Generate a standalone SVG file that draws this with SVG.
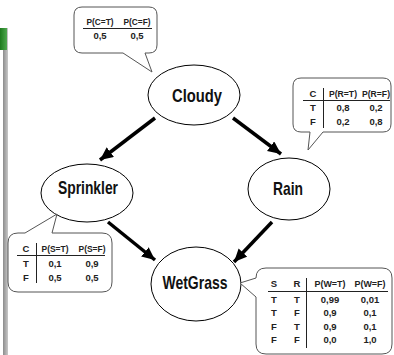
<svg xmlns="http://www.w3.org/2000/svg" width="394" height="355" viewBox="0 0 394 355">
<style>
.node{fill:#fff;stroke:#000;stroke-width:1}
.lbl{font-family:"Liberation Sans",Arial,sans-serif;font-weight:bold;font-size:19px;text-anchor:middle;fill:#111}
.call{fill:#fff;stroke:#555;stroke-width:1}
.t{font-family:"Liberation Sans",Arial,sans-serif;font-weight:bold;font-size:9.5px;text-anchor:middle;fill:#222}
.rule{stroke:#222;stroke-width:1}
.arr{stroke:#000;stroke-width:3.5;fill:none;marker-end:url(#ah)}
</style>
<defs>
<marker id="ah" markerUnits="userSpaceOnUse" markerWidth="15" markerHeight="13" refX="13" refY="6" orient="auto">
<path d="M0,0 L13,6 L0,12 z" fill="#000"/>
</marker>
<linearGradient id="gbar" x1="0" x2="1" y1="0" y2="0">
<stop offset="0" stop-color="#8c8c8c"/><stop offset="1" stop-color="#c8c8c8"/>
</linearGradient>
<linearGradient id="gg" x1="0" x2="1" y1="0" y2="0">
<stop offset="0" stop-color="#1d7a1d"/><stop offset="1" stop-color="#4fa84f"/>
</linearGradient>
</defs>
<rect x="0" y="0" width="394" height="355" fill="#fff"/>
<rect x="3" y="28" width="5" height="327" fill="url(#gbar)"/>
<rect x="0" y="28" width="7" height="22" fill="url(#gg)"/>

<g id="connectors">
<line class="arr" x1="155" y1="118" x2="100" y2="160"/>
<line class="arr" x1="233" y1="118" x2="281" y2="154"/>
<line class="arr" x1="108" y1="222" x2="155" y2="260"/>
<line class="arr" x1="272" y1="222" x2="234" y2="262"/>
</g>

<g id="cloudy">
<ellipse class="node" cx="194" cy="95" rx="46" ry="30"/>
<text class="lbl" x="197" y="102" textLength="50" lengthAdjust="spacingAndGlyphs">Cloudy</text>
</g>
<g id="sprinkler">
<ellipse class="node" cx="87" cy="193" rx="46" ry="29"/>
<text class="lbl" x="88" y="194" textLength="60" lengthAdjust="spacingAndGlyphs">Sprinkler</text>
</g>
<g id="rain">
<ellipse class="node" cx="289" cy="189" rx="41" ry="31"/>
<text class="lbl" x="288" y="195" textLength="30" lengthAdjust="spacingAndGlyphs">Rain</text>
</g>
<g id="wetgrass">
<ellipse class="node" cx="196" cy="284" rx="45" ry="37"/>
<text class="lbl" x="195" y="289" textLength="65" lengthAdjust="spacingAndGlyphs">WetGrass</text>
</g>

<g id="cpt-cloudy">
<path class="call" d="M82,7 H149 Q157,7 157,15 V45 Q157,53 149,53 H145 L152,72 L123,53 H82 Q74,53 74,45 V15 Q74,7 82,7 Z"/>
<text class="t" x="100" y="25" textLength="27" lengthAdjust="spacingAndGlyphs">P(C=T)</text>
<text class="t" x="137" y="25" textLength="27" lengthAdjust="spacingAndGlyphs">P(C=F)</text>
<line class="rule" x1="83" y1="28.5" x2="152" y2="28.5"/>
<text class="t" x="100" y="39">0,5</text>
<text class="t" x="137" y="39">0,5</text>
</g>

<g id="cpt-rain">
<path class="call" d="M301,78 H383 Q391,78 391,86 V124 Q391,132 383,132 H323 L308,150 L310,132 H301 Q293,132 293,124 V86 Q293,78 301,78 Z"/>
<text class="t" x="313" y="97">C</text>
<text class="t" x="343" y="97" textLength="28" lengthAdjust="spacingAndGlyphs">P(R=T)</text>
<text class="t" x="376" y="97" textLength="28" lengthAdjust="spacingAndGlyphs">P(R=F)</text>
<line class="rule" x1="303" y1="100.5" x2="390" y2="100.5"/>
<line class="rule" x1="323.5" y1="88" x2="323.5" y2="128"/>
<text class="t" x="313" y="111">T</text>
<text class="t" x="343" y="111">0,8</text>
<text class="t" x="376" y="111">0,2</text>
<text class="t" x="313" y="125">F</text>
<text class="t" x="343" y="125">0,2</text>
<text class="t" x="376" y="125">0,8</text>
</g>

<g id="cpt-sprinkler">
<path class="call" d="M18,233 H25 L57,214 L52,233 H102 Q112,233 112,243 V282 Q112,292 102,292 H18 Q8,292 8,282 V243 Q8,233 18,233 Z"/>
<text class="t" x="26" y="252">C</text>
<text class="t" x="55" y="252" textLength="27" lengthAdjust="spacingAndGlyphs">P(S=T)</text>
<text class="t" x="92" y="252" textLength="27" lengthAdjust="spacingAndGlyphs">P(S=F)</text>
<line class="rule" x1="17" y1="255.5" x2="105" y2="255.5"/>
<line class="rule" x1="36.5" y1="243" x2="36.5" y2="283"/>
<text class="t" x="26" y="267">T</text>
<text class="t" x="55" y="267">0,1</text>
<text class="t" x="92" y="267">0,9</text>
<text class="t" x="26" y="281">F</text>
<text class="t" x="55" y="281">0,5</text>
<text class="t" x="92" y="281">0,5</text>
</g>

<g id="cpt-wetgrass">
<path class="call" d="M266,268 H382 Q392,268 392,278 V344 Q392,354 382,354 H266 Q256,354 256,344 V297 L240,283 L256,278 Q256,268 266,268 Z"/>
<text class="t" x="274" y="287">S</text>
<text class="t" x="297" y="287">R</text>
<text class="t" x="330" y="287" textLength="31" lengthAdjust="spacingAndGlyphs">P(W=T)</text>
<text class="t" x="370" y="287" textLength="31" lengthAdjust="spacingAndGlyphs">P(W=F)</text>
<line class="rule" x1="268" y1="291.5" x2="388" y2="291.5"/>
<line class="rule" x1="306.5" y1="278" x2="306.5" y2="348"/>
<text class="t" x="274" y="303">T</text><text class="t" x="297" y="303">T</text>
<text class="t" x="330" y="303">0,99</text><text class="t" x="370" y="303">0,01</text>
<text class="t" x="274" y="316">T</text><text class="t" x="297" y="316">F</text>
<text class="t" x="330" y="316">0,9</text><text class="t" x="370" y="316">0,1</text>
<text class="t" x="274" y="330">F</text><text class="t" x="297" y="330">T</text>
<text class="t" x="330" y="330">0,9</text><text class="t" x="370" y="330">0,1</text>
<text class="t" x="274" y="343">F</text><text class="t" x="297" y="343">F</text>
<text class="t" x="330" y="343">0,0</text><text class="t" x="370" y="343">1,0</text>
</g>
</svg>
